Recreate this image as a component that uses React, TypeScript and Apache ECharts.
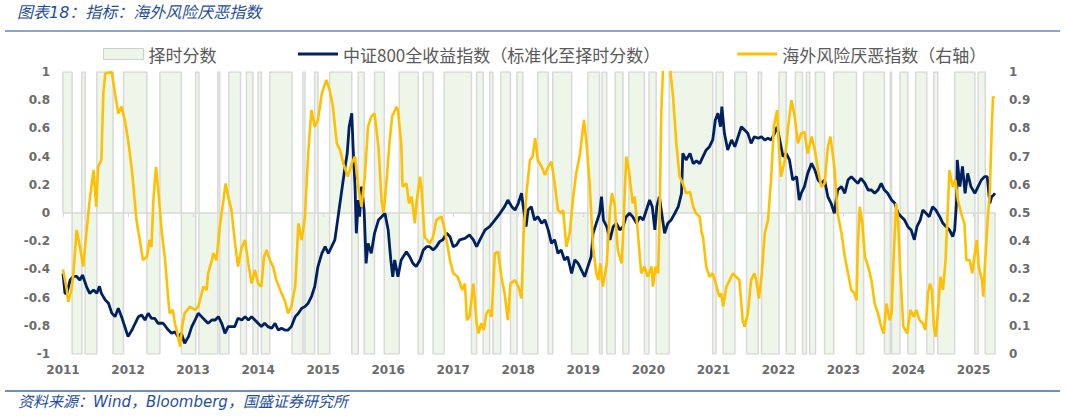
import React, { useEffect, useRef } from "react";
import * as echarts from "echarts";

// 择时分数: switch dates (decimal year) and the score held from each date
const scoreT = [2011.00, 2011.14, 2011.29, 2011.34, 2011.52, 2011.77, 2011.93, 2012.29, 2012.49, 2012.82, 2013.04, 2013.09, 2013.38, 2013.41, 2013.55, 2013.73, 2013.82, 2013.92, 2014.00, 2014.05, 2014.18, 2014.52, 2014.69, 2014.72, 2014.87, 2014.92, 2015.10, 2015.44, 2015.54, 2015.63, 2015.79, 2015.94, 2016.17, 2016.46, 2016.54, 2016.69, 2016.86, 2017.28, 2017.36, 2017.46, 2017.56, 2017.61, 2017.73, 2017.88, 2017.98, 2018.07, 2018.30, 2018.46, 2018.53, 2018.82, 2019.07, 2019.25, 2019.29, 2019.36, 2019.49, 2019.61, 2019.70, 2019.94, 2020.01, 2020.12, 2020.32, 2020.99, 2021.04, 2021.15, 2021.33, 2021.51, 2021.69, 2021.74, 2022.01, 2022.12, 2022.26, 2022.37, 2022.43, 2022.48, 2022.57, 2022.71, 2022.85, 2023.20, 2023.31, 2023.63, 2023.72, 2023.74, 2023.87, 2023.99, 2024.11, 2024.28, 2024.39, 2024.45, 2024.71, 2025.02, 2025.07, 2025.18];
const scoreV = [1, -1, 1, -1, 1, -1, 1, -1, 1, -1, 1, -1, 1, -1, 1, -1, 1, -1, 1, -1, 1, -1, 1, -1, 1, -1, 1, -1, 1, -1, 1, -1, 1, -1, 1, -1, 1, -1, 1, -1, 1, -1, 1, -1, 1, -1, 1, -1, 1, -1, 1, -1, 1, -1, 1, -1, 1, -1, 1, -1, 1, -1, 1, -1, 1, -1, 1, -1, 1, -1, 1, -1, 1, -1, 1, -1, 1, -1, 1, -1, 1, -1, 1, -1, 1, -1, 1, -1, 1, -1, 1, -1];
const dataEnd = 2025.33;

// 中证800全收益指数(标准化至择时分数) - left axis
const csiT = [2011.00, 2011.03, 2011.06, 2011.11, 2011.16, 2011.21, 2011.26, 2011.30, 2011.36, 2011.41, 2011.47, 2011.52, 2011.56, 2011.59, 2011.65, 2011.70, 2011.75, 2011.80, 2011.85, 2011.90, 2011.95, 2012.00, 2012.06, 2012.11, 2012.16, 2012.21, 2012.26, 2012.31, 2012.36, 2012.41, 2012.46, 2012.54, 2012.62, 2012.67, 2012.72, 2012.77, 2012.82, 2012.87, 2012.93, 2012.98, 2013.03, 2013.08, 2013.13, 2013.18, 2013.23, 2013.29, 2013.34, 2013.39, 2013.44, 2013.49, 2013.54, 2013.59, 2013.64, 2013.69, 2013.75, 2013.80, 2013.85, 2013.90, 2013.95, 2014.00, 2014.05, 2014.10, 2014.15, 2014.21, 2014.26, 2014.31, 2014.36, 2014.41, 2014.46, 2014.51, 2014.57, 2014.62, 2014.67, 2014.72, 2014.77, 2014.82, 2014.87, 2014.92, 2014.98, 2015.03, 2015.08, 2015.13, 2015.18, 2015.23, 2015.28, 2015.33, 2015.37, 2015.40, 2015.44, 2015.46, 2015.49, 2015.51, 2015.54, 2015.56, 2015.59, 2015.63, 2015.66, 2015.69, 2015.74, 2015.79, 2015.85, 2015.90, 2015.95, 2016.00, 2016.04, 2016.07, 2016.10, 2016.15, 2016.20, 2016.28, 2016.33, 2016.38, 2016.43, 2016.49, 2016.54, 2016.59, 2016.64, 2016.69, 2016.74, 2016.79, 2016.84, 2016.90, 2016.95, 2017.00, 2017.05, 2017.10, 2017.18, 2017.25, 2017.31, 2017.36, 2017.41, 2017.49, 2017.56, 2017.64, 2017.72, 2017.79, 2017.84, 2017.90, 2017.95, 2018.00, 2018.05, 2018.07, 2018.12, 2018.15, 2018.20, 2018.25, 2018.30, 2018.36, 2018.41, 2018.46, 2018.51, 2018.56, 2018.61, 2018.66, 2018.71, 2018.76, 2018.82, 2018.87, 2018.92, 2018.97, 2019.02, 2019.07, 2019.12, 2019.15, 2019.20, 2019.25, 2019.28, 2019.31, 2019.36, 2019.41, 2019.46, 2019.51, 2019.56, 2019.61, 2019.66, 2019.71, 2019.76, 2019.82, 2019.87, 2019.92, 2019.97, 2020.02, 2020.06, 2020.10, 2020.13, 2020.17, 2020.22, 2020.25, 2020.30, 2020.35, 2020.41, 2020.46, 2020.51, 2020.53, 2020.58, 2020.64, 2020.69, 2020.74, 2020.79, 2020.84, 2020.89, 2020.94, 2020.99, 2021.03, 2021.07, 2021.11, 2021.13, 2021.17, 2021.22, 2021.28, 2021.33, 2021.38, 2021.43, 2021.48, 2021.53, 2021.58, 2021.63, 2021.69, 2021.74, 2021.79, 2021.84, 2021.89, 2021.94, 2021.98, 2022.02, 2022.07, 2022.12, 2022.17, 2022.22, 2022.28, 2022.32, 2022.35, 2022.40, 2022.45, 2022.51, 2022.56, 2022.61, 2022.66, 2022.71, 2022.76, 2022.81, 2022.86, 2022.91, 2022.97, 2023.02, 2023.07, 2023.12, 2023.17, 2023.22, 2023.27, 2023.33, 2023.38, 2023.43, 2023.48, 2023.53, 2023.58, 2023.63, 2023.68, 2023.74, 2023.79, 2023.84, 2023.89, 2023.94, 2023.99, 2024.04, 2024.09, 2024.13, 2024.18, 2024.22, 2024.27, 2024.32, 2024.37, 2024.42, 2024.48, 2024.53, 2024.58, 2024.63, 2024.68, 2024.71, 2024.74, 2024.75, 2024.79, 2024.83, 2024.87, 2024.91, 2024.96, 2025.02, 2025.07, 2025.12, 2025.17, 2025.21, 2025.25, 2025.28, 2025.31, 2025.33];
const csiV = [-0.43, -0.57, -0.57, -0.475, -0.45, -0.45, -0.475, -0.44, -0.52, -0.57, -0.546, -0.57, -0.52, -0.57, -0.617, -0.64, -0.71, -0.735, -0.676, -0.735, -0.806, -0.877, -0.83, -0.782, -0.735, -0.723, -0.759, -0.711, -0.747, -0.747, -0.782, -0.782, -0.83, -0.853, -0.842, -0.877, -0.853, -0.924, -0.877, -0.806, -0.759, -0.711, -0.735, -0.759, -0.782, -0.759, -0.759, -0.735, -0.782, -0.853, -0.806, -0.806, -0.806, -0.747, -0.759, -0.735, -0.759, -0.735, -0.759, -0.782, -0.806, -0.782, -0.806, -0.818, -0.782, -0.83, -0.818, -0.83, -0.83, -0.806, -0.735, -0.711, -0.676, -0.664, -0.64, -0.593, -0.523, -0.38, -0.286, -0.239, -0.286, -0.239, -0.19, -0.026, 0.14, 0.305, 0.423, 0.612, 0.707, 0.47, 0.187, -0.144, 0.092, -0.026, 0.187, 0.021, -0.357, -0.215, -0.286, -0.144, -0.05, -0.026, -0.002, -0.12, -0.333, -0.452, -0.333, -0.452, -0.333, -0.274, -0.31, -0.357, -0.38, -0.333, -0.262, -0.239, -0.239, -0.262, -0.239, -0.203, -0.19, -0.144, -0.168, -0.239, -0.227, -0.19, -0.18, -0.156, -0.19, -0.239, -0.19, -0.12, -0.097, -0.05, -0.002, 0.045, 0.092, 0.045, 0.021, 0.069, 0.14, 0.069, -0.097, 0.021, 0.045, -0.05, -0.026, -0.073, -0.05, -0.12, -0.215, -0.19, -0.286, -0.262, -0.333, -0.31, -0.428, -0.333, -0.357, -0.404, -0.452, -0.38, -0.31, -0.144, -0.073, -0.002, 0.116, -0.05, -0.097, -0.19, -0.097, -0.073, -0.12, -0.097, -0.026, -0.002, -0.026, -0.073, -0.026, -0.05, 0.021, 0.092, 0.045, -0.12, 0.045, 0.116, -0.05, -0.144, -0.073, -0.05, 0.0, 0.045, 0.14, 0.423, 0.376, 0.423, 0.35, 0.37, 0.35, 0.40, 0.447, 0.47, 0.518, 0.66, 0.707, 0.612, 0.754, 0.565, 0.447, 0.518, 0.47, 0.541, 0.612, 0.589, 0.565, 0.494, 0.541, 0.53, 0.541, 0.518, 0.53, 0.518, 0.565, 0.612, 0.518, 0.40, 0.423, 0.376, 0.234, 0.258, 0.092, 0.14, 0.187, 0.281, 0.352, 0.305, 0.234, 0.21, 0.234, 0.116, 0.069, -0.002, 0.163, 0.187, 0.14, 0.234, 0.258, 0.234, 0.21, 0.246, 0.21, 0.163, 0.163, 0.14, 0.163, 0.21, 0.163, 0.14, 0.092, 0.069, -0.002, -0.026, -0.05, -0.097, -0.12, -0.19, -0.097, -0.05, 0.021, -0.002, -0.026, 0.045, 0.021, -0.026, -0.073, -0.097, -0.12, -0.168, -0.12, 0.092, 0.376, 0.187, 0.33, 0.14, 0.281, 0.187, 0.14, 0.187, 0.234, 0.258, 0.258, 0.069, 0.116, 0.128, 0.14];

// 海外风险厌恶指数(右轴) - right axis
const riskT = [2011.00, 2011.06, 2011.08, 2011.13, 2011.16, 2011.21, 2011.26, 2011.31, 2011.36, 2011.41, 2011.47, 2011.51, 2011.54, 2011.59, 2011.62, 2011.65, 2011.75, 2011.80, 2011.85, 2011.90, 2011.95, 2012.00, 2012.06, 2012.13, 2012.18, 2012.23, 2012.29, 2012.33, 2012.36, 2012.39, 2012.43, 2012.46, 2012.52, 2012.57, 2012.62, 2012.64, 2012.69, 2012.72, 2012.76, 2012.80, 2012.84, 2012.87, 2012.95, 2013.03, 2013.08, 2013.16, 2013.21, 2013.23, 2013.29, 2013.31, 2013.36, 2013.41, 2013.46, 2013.50, 2013.54, 2013.59, 2013.64, 2013.69, 2013.75, 2013.80, 2013.85, 2013.90, 2013.95, 2014.00, 2014.05, 2014.09, 2014.13, 2014.18, 2014.23, 2014.28, 2014.36, 2014.41, 2014.46, 2014.51, 2014.57, 2014.62, 2014.67, 2014.72, 2014.77, 2014.82, 2014.87, 2014.92, 2014.98, 2015.05, 2015.10, 2015.15, 2015.21, 2015.26, 2015.31, 2015.38, 2015.44, 2015.49, 2015.54, 2015.59, 2015.64, 2015.69, 2015.74, 2015.79, 2015.85, 2015.90, 2015.93, 2015.97, 2016.02, 2016.06, 2016.13, 2016.15, 2016.20, 2016.22, 2016.28, 2016.32, 2016.36, 2016.41, 2016.44, 2016.49, 2016.51, 2016.56, 2016.64, 2016.69, 2016.74, 2016.82, 2016.87, 2016.95, 2017.00, 2017.07, 2017.14, 2017.18, 2017.21, 2017.25, 2017.31, 2017.36, 2017.39, 2017.43, 2017.47, 2017.51, 2017.55, 2017.59, 2017.64, 2017.69, 2017.74, 2017.79, 2017.84, 2017.88, 2017.95, 2018.00, 2018.05, 2018.08, 2018.13, 2018.18, 2018.22, 2018.26, 2018.30, 2018.36, 2018.41, 2018.46, 2018.51, 2018.56, 2018.61, 2018.66, 2018.69, 2018.74, 2018.79, 2018.84, 2018.89, 2018.95, 2019.01, 2019.05, 2019.10, 2019.15, 2019.20, 2019.23, 2019.26, 2019.30, 2019.36, 2019.41, 2019.44, 2019.48, 2019.53, 2019.59, 2019.61, 2019.66, 2019.70, 2019.76, 2019.79, 2019.84, 2019.89, 2019.94, 2019.99, 2020.05, 2020.07, 2020.11, 2020.15, 2020.17, 2020.20, 2020.23, 2020.27, 2020.33, 2020.38, 2020.43, 2020.48, 2020.53, 2020.58, 2020.64, 2020.69, 2020.73, 2020.79, 2020.82, 2020.84, 2020.89, 2020.94, 2020.99, 2021.05, 2021.09, 2021.12, 2021.15, 2021.20, 2021.25, 2021.30, 2021.35, 2021.40, 2021.45, 2021.48, 2021.53, 2021.58, 2021.63, 2021.66, 2021.70, 2021.74, 2021.79, 2021.84, 2021.89, 2021.93, 2021.98, 2022.01, 2022.04, 2022.10, 2022.15, 2022.20, 2022.25, 2022.30, 2022.35, 2022.40, 2022.45, 2022.51, 2022.56, 2022.61, 2022.66, 2022.71, 2022.76, 2022.80, 2022.86, 2022.91, 2022.97, 2023.02, 2023.07, 2023.12, 2023.17, 2023.20, 2023.22, 2023.25, 2023.29, 2023.33, 2023.38, 2023.43, 2023.48, 2023.53, 2023.58, 2023.62, 2023.66, 2023.71, 2023.74, 2023.77, 2023.81, 2023.84, 2023.87, 2023.92, 2023.98, 2024.03, 2024.08, 2024.12, 2024.17, 2024.22, 2024.26, 2024.30, 2024.33, 2024.36, 2024.39, 2024.42, 2024.45, 2024.49, 2024.53, 2024.57, 2024.61, 2024.63, 2024.68, 2024.72, 2024.76, 2024.81, 2024.86, 2024.89, 2024.94, 2024.98, 2025.02, 2025.05, 2025.08, 2025.13, 2025.15, 2025.18, 2025.22, 2025.25, 2025.28, 2025.30, 2025.32];
const riskV = [0.30, 0.227, 0.185, 0.227, 0.287, 0.44, 0.38, 0.31, 0.43, 0.546, 0.652, 0.522, 0.664, 0.688, 0.924, 0.995, 1.0, 0.924, 0.853, 0.877, 0.83, 0.76, 0.652, 0.475, 0.404, 0.333, 0.345, 0.404, 0.38, 0.546, 0.664, 0.593, 0.428, 0.333, 0.19, 0.144, 0.156, 0.109, 0.073, 0.026, 0.109, 0.144, 0.168, 0.156, 0.168, 0.239, 0.227, 0.286, 0.333, 0.357, 0.333, 0.451, 0.534, 0.605, 0.558, 0.51, 0.404, 0.31, 0.38, 0.404, 0.321, 0.25, 0.298, 0.25, 0.239, 0.345, 0.369, 0.333, 0.31, 0.262, 0.215, 0.19, 0.144, 0.168, 0.239, 0.463, 0.404, 0.487, 0.711, 0.865, 0.806, 0.83, 0.924, 0.972, 0.936, 0.877, 0.747, 0.723, 0.676, 0.629, 0.676, 0.70, 0.593, 0.522, 0.629, 0.806, 0.842, 0.853, 0.735, 0.54, 0.50, 0.60, 0.75, 0.842, 0.877, 0.865, 0.747, 0.593, 0.605, 0.534, 0.558, 0.463, 0.546, 0.629, 0.593, 0.416, 0.392, 0.416, 0.475, 0.487, 0.44, 0.333, 0.286, 0.274, 0.227, 0.25, 0.12, 0.132, 0.25, 0.109, 0.073, 0.109, 0.085, 0.144, 0.156, 0.132, 0.357, 0.363, 0.274, 0.215, 0.12, 0.25, 0.262, 0.239, 0.197, 0.416, 0.58, 0.688, 0.70, 0.765, 0.688, 0.664, 0.635, 0.664, 0.682, 0.605, 0.51, 0.499, 0.51, 0.38, 0.428, 0.546, 0.64, 0.711, 0.83, 0.747, 0.593, 0.38, 0.286, 0.262, 0.321, 0.239, 0.321, 0.51, 0.57, 0.534, 0.369, 0.321, 0.416, 0.70, 0.652, 0.534, 0.558, 0.428, 0.286, 0.31, 0.274, 0.31, 0.239, 0.31, 0.286, 0.451, 0.865, 1.03, 1.08, 1.02, 0.913, 0.747, 0.629, 0.605, 0.57, 0.575, 0.522, 0.499, 0.487, 0.428, 0.416, 0.31, 0.274, 0.286, 0.239, 0.203, 0.215, 0.168, 0.239, 0.262, 0.286, 0.274, 0.262, 0.12, 0.097, 0.144, 0.262, 0.286, 0.262, 0.197, 0.274, 0.428, 0.475, 0.629, 0.806, 0.865, 0.723, 0.629, 0.688, 0.806, 0.90, 0.842, 0.747, 0.782, 0.788, 0.711, 0.771, 0.723, 0.652, 0.593, 0.605, 0.735, 0.771, 0.664, 0.499, 0.428, 0.345, 0.286, 0.227, 0.215, 0.19, 0.38, 0.522, 0.463, 0.345, 0.31, 0.262, 0.179, 0.144, 0.097, 0.073, 0.179, 0.12, 0.144, 0.333, 0.534, 0.475, 0.31, 0.097, 0.073, 0.156, 0.132, 0.156, 0.12, 0.109, 0.085, 0.215, 0.25, 0.227, 0.097, 0.061, 0.144, 0.274, 0.227, 0.333, 0.546, 0.652, 0.593, 0.617, 0.546, 0.499, 0.463, 0.333, 0.333, 0.286, 0.357, 0.404, 0.31, 0.262, 0.203, 0.333, 0.487, 0.57, 0.806, 0.913, 0.906];

const yearMin = 2011;
const leftTicks = { min: -1, max: 1, step: 0.2 };
const rightTicks = { min: 0, max: 1, step: 0.1 };

const NAME_SCORE = "择时分数";
const NAME_CSI = "中证800全收益指数（标准化至择时分数）";
const NAME_RISK = "海外风险厌恶指数（右轴）";
const TITLE = "图表18：指标：海外风险厌恶指数";
const SOURCE = "资料来源：Wind，Bloomberg，国盛证券研究所";

const fmt = (v: number) => String(Math.round(v * 10) / 10);

export default function App() {
  const ref = useRef<HTMLDivElement>(null);
  useEffect(() => {
    if (!ref.current) return;
    const chart = echarts.init(ref.current, undefined, { renderer: "svg" });

    const scoreData: number[][] = [[scoreT[0], 0]];
    scoreT.forEach((t, i) => scoreData.push([t, scoreV[i]]));
    scoreData.push([dataEnd, scoreV[scoreV.length - 1]]);
    scoreData.push([dataEnd, 0]);

    const csiData = csiT.map((t, i) => [t, csiV[i]]);
    const riskData = riskT.map((t, i) => [t, riskV[i]]);

    const axisLabelBase = {
      fontSize: 12,
      fontWeight: "bold" as const,
      color: "#6b6b6b",
      fontFamily: "DejaVu Sans",
    };
    const legendText = { fontSize: 17, color: "#595959", fontFamily: "Noto Sans CJK SC", lineHeight: 20 };

    chart.setOption({
      animation: false,
      backgroundColor: "#ffffff",
      grid: { left: 63, right: 70, top: 72, bottom: 63 },
      legend: [
        {
          left: 98,
          top: 39,
          itemWidth: 40,
          itemHeight: 11,
          textStyle: legendText,
          data: [
            { name: NAME_SCORE, icon: "rect", itemStyle: { color: "#EEF6EA", borderColor: "#CFCFCF", borderWidth: 1 } },
          ],
        },
        {
          left: 293,
          top: 39,
          itemWidth: 40,
          itemHeight: 3,
          itemGap: 77,
          icon: "rect",
          textStyle: legendText,
          data: [{ name: NAME_CSI }, { name: NAME_RISK }],
        },
      ],
      xAxis: [
        {
          type: "value",
          min: yearMin,
          max: dataEnd,
          interval: 1,
          axisLine: { show: false, onZero: false },
          axisTick: { show: false },
          splitLine: { show: false },
          axisLabel: {
            ...axisLabelBase,
            margin: 10,
            showMaxLabel: false,
            formatter: (v: number) => (Number.isInteger(v) ? String(v) : ""),
          },
        },
        {
          type: "value",
          position: "bottom",
          min: yearMin,
          max: dataEnd,
          interval: 1,
          z: 2,
          axisLine: { show: true, onZero: true, onZeroAxisIndex: 0, lineStyle: { color: "#D9D9D9", width: 1.5 } },
          axisTick: { show: true, length: 4, lineStyle: { color: "#D9D9D9" } },
          axisLabel: { show: false },
          splitLine: { show: false },
        },
      ],
      yAxis: [
        {
          type: "value",
          position: "left",
          min: leftTicks.min,
          max: leftTicks.max,
          interval: leftTicks.step,
          axisLine: { show: false },
          axisTick: { show: false },
          splitLine: { show: false },
          axisLabel: { ...axisLabelBase, margin: 13, formatter: fmt },
        },
        {
          type: "value",
          position: "right",
          min: rightTicks.min,
          max: rightTicks.max,
          interval: rightTicks.step,
          axisLine: { show: false, onZero: false },
          axisTick: { show: false },
          splitLine: { show: false },
          axisLabel: { ...axisLabelBase, margin: 14, formatter: fmt },
        },
      ],
      series: [
        {
          name: NAME_SCORE,
          type: "line",
          step: "end",
          data: scoreData,
          symbol: "none",
          silent: true,
          z: 1,
          lineStyle: { color: "#D9D9D9", width: 1.5 },
          itemStyle: { color: "#EEF6EA" },
          areaStyle: { color: "#EEF6EA", opacity: 1 },
        },
        {
          name: NAME_CSI,
          type: "line",
          data: csiData,
          symbol: "none",
          z: 3,
          lineStyle: { color: "#002060", width: 2.8 },
          itemStyle: { color: "#002060" },
        },
        {
          name: NAME_RISK,
          type: "line",
          yAxisIndex: 1,
          data: riskData,
          symbol: "none",
          z: 4,
          lineStyle: { color: "#FFC000", width: 2.6 },
          itemStyle: { color: "#FFC000" },
        },
      ],
      graphic: [
        {
          type: "text",
          left: 17,
          top: 4,
          style: {
            text: TITLE,
            fill: "#1F4E9E",
            font: 'italic 16px "DejaVu Sans", "Noto Sans CJK SC"',
          },
        },
        {
          type: "line",
          shape: { x1: 5, y1: 31, x2: 1060, y2: 31 },
          style: { stroke: "#6286C2", lineWidth: 1.5 },
        },
        {
          type: "line",
          shape: { x1: 5, y1: 391, x2: 1060, y2: 391 },
          style: { stroke: "#3C68B2", lineWidth: 1.5 },
        },
        {
          type: "text",
          left: 18,
          top: 394,
          style: {
            text: SOURCE,
            fill: "#1F4E9E",
            font: 'italic 15px "DejaVu Sans", "Noto Sans CJK SC"',
          },
        },
      ],
    });
    return () => chart.dispose();
  }, []);
  return (
    <div
      ref={ref}
      style={{ position: "absolute", left: 0, top: 0, width: 1065, height: 417 }}
    />
  );
}
